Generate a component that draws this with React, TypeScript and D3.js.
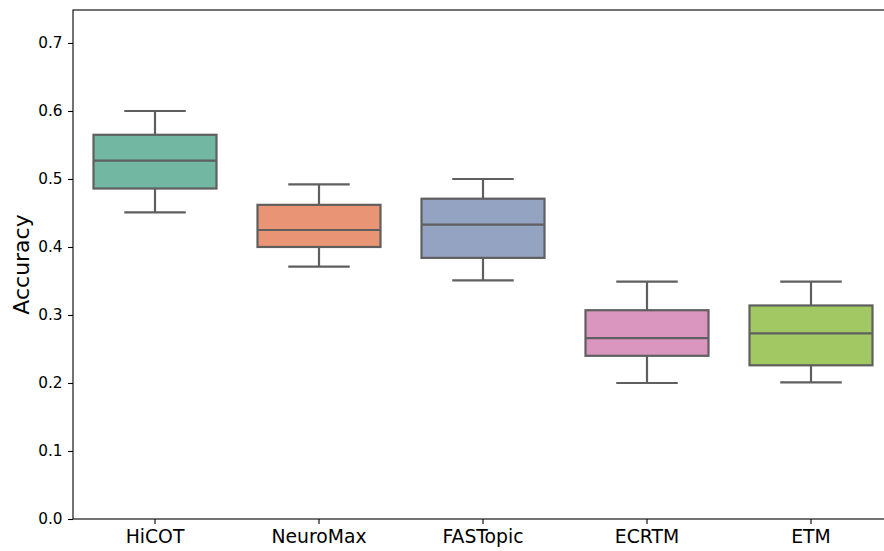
import React, { useEffect, useRef } from 'react';
import * as d3 from 'd3';

// box stats
const models = ['HiCOT', 'NeuroMax', 'FASTopic', 'ECRTM', 'ETM'];
const whiskerLow = [0.451, 0.371, 0.351, 0.2, 0.201];
const q1 = [0.486, 0.4, 0.384, 0.24, 0.226];
const median = [0.527, 0.425, 0.433, 0.266, 0.273];
const q3 = [0.565, 0.462, 0.471, 0.307, 0.314];
const whiskerHigh = [0.6, 0.492, 0.5, 0.349, 0.349];
const yTicks = [0, 0.1, 0.2, 0.3, 0.4, 0.5, 0.6, 0.7];
const colors = ['#71b7a1', '#e99575', '#95a3c3', '#db96c0', '#a2c864'];

const App = () => {
  const ref = useRef<SVGSVGElement>(null);

  useEffect(() => {
    document.body.style.margin = '0';
    const svg = d3.select(ref.current);
    svg.selectAll('*').remove();

    const left = 73, right = 893, top = 10, bottom = 519;
    const x = d3.scaleBand().domain(models).range([left, right]).padding(0);
    const y = d3.scaleLinear().domain([0, 0.7485]).range([bottom, top]);
    const font = 'DejaVu Sans, sans-serif';
    const lineColor = '#5f5f5f';
    const lw = 2.2;

    const data = models.map((m, i) => ({
      m, lo: whiskerLow[i], q1: q1[i], med: median[i], q3: q3[i], hi: whiskerHigh[i], c: colors[i],
    }));

    const bw = x.bandwidth() * 0.75;
    const cap = bw / 2;
    const g = svg.append('g');

    data.forEach((d) => {
      const cx = x(d.m)! + x.bandwidth() / 2;
      // whiskers
      g.append('line').attr('x1', cx).attr('x2', cx).attr('y1', y(d.q3)).attr('y2', y(d.hi))
        .attr('stroke', lineColor).attr('stroke-width', lw);
      g.append('line').attr('x1', cx).attr('x2', cx).attr('y1', y(d.q1)).attr('y2', y(d.lo))
        .attr('stroke', lineColor).attr('stroke-width', lw);
      // caps
      [d.lo, d.hi].forEach((v) => {
        g.append('line').attr('x1', cx - cap / 2).attr('x2', cx + cap / 2).attr('y1', y(v)).attr('y2', y(v))
          .attr('stroke', lineColor).attr('stroke-width', lw);
      });
      g.append('rect')
        .attr('x', cx - bw / 2).attr('y', y(d.q3))
        .attr('width', bw).attr('height', y(d.q1) - y(d.q3))
        .attr('fill', d.c).attr('stroke', lineColor).attr('stroke-width', lw);
      g.append('line').attr('x1', cx - bw / 2).attr('x2', cx + bw / 2).attr('y1', y(d.med)).attr('y2', y(d.med))
        .attr('stroke', lineColor).attr('stroke-width', lw);
    });

    // axes
    const yAxis = svg.append('g').attr('transform', `translate(${left},0)`)
      .call(d3.axisLeft(y).tickValues(yTicks).tickFormat(d3.format('.1f')).tickSize(5).tickPadding(5.5));
    yAxis.select('.domain').remove();
    yAxis.selectAll('text').attr('font-family', font).attr('font-size', 15.3).attr('fill', '#000');
    yAxis.selectAll('line').attr('stroke', '#000').attr('stroke-width', 1.1);

    const xAxis = svg.append('g').attr('transform', `translate(0,${bottom})`)
      .call(d3.axisBottom(x).tickSize(5).tickPadding(6));
    xAxis.select('.domain').remove();
    xAxis.selectAll('text').attr('font-family', font).attr('font-size', 18.8).attr('fill', '#000');
    xAxis.selectAll('line').attr('stroke', '#000').attr('stroke-width', 1.1);

    // spines
    svg.append('rect').attr('x', left).attr('y', top).attr('width', right - left).attr('height', bottom - top)
      .attr('fill', 'none').attr('stroke', '#000').attr('stroke-width', 1.1);

    svg.append('text')
      .attr('transform', `translate(21,${(top + bottom) / 2}) rotate(-90)`)
      .attr('text-anchor', 'middle').attr('dominant-baseline', 'central')
      .attr('font-family', font).attr('font-size', 22).attr('fill', '#000')
      .text('Accuracy');
  }, []);

  return <svg ref={ref} width={884} height={551} style={{ display: 'block' }}></svg>;
};

export default App;
